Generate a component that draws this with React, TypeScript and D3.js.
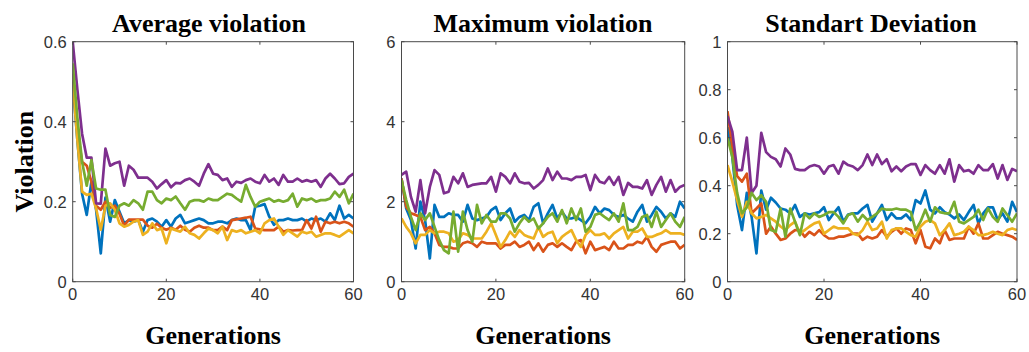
import React from "react";
import * as d3 from "d3";

// ---------- data (generation index 0..60) ----------
const xTicks = [0, 20, 40, 60];

const avgBlue = [0.50,0.354,0.22,0.167,0.25,0.18,0.071,0.21,0.15,0.204,0.175,0.146,0.154,0.15,0.154,0.125,0.154,0.158,0.15,0.1375,0.154,0.1375,0.158,0.167,0.146,0.15,0.154,0.158,0.154,0.146,0.146,0.15,0.15,0.146,0.154,0.158,0.154,0.154,0.129,0.1875,0.19,0.194,0.1625,0.142,0.154,0.154,0.158,0.154,0.154,0.158,0.15,0.158,0.154,0.158,0.15,0.171,0.154,0.19,0.158,0.167,0.158];
const avgRed = [0.52,0.38,0.30,0.29,0.25,0.19,0.18,0.2,0.185,0.19,0.17,0.14,0.155,0.155,0.155,0.155,0.14,0.135,0.145,0.135,0.13,0.135,0.13,0.14,0.13,0.125,0.135,0.14,0.135,0.135,0.129,0.129,0.1375,0.129,0.154,0.156,0.158,0.16,0.1625,0.133,0.131,0.129,0.129,0.129,0.1375,0.125,0.129,0.128,0.129,0.129,0.154,0.133,0.1625,0.125,0.15,0.146,0.15,0.146,0.15,0.146,0.1375];
const avgYellow = [0.504,0.354,0.225,0.217,0.22,0.183,0.13,0.19,0.196,0.18,0.146,0.1375,0.142,0.15,0.154,0.117,0.125,0.146,0.129,0.133,0.096,0.133,0.129,0.125,0.1375,0.121,0.117,0.108,0.121,0.133,0.129,0.121,0.1375,0.104,0.129,0.125,0.129,0.121,0.125,0.129,0.121,0.146,0.154,0.158,0.1375,0.117,0.129,0.121,0.1125,0.125,0.121,0.125,0.1125,0.117,0.121,0.121,0.117,0.1125,0.121,0.129,0.121];
const avgPurple = [0.60,0.48,0.37,0.31,0.31,0.196,0.195,0.333,0.29,0.296,0.30,0.24,0.29,0.28,0.26,0.26,0.26,0.25,0.233,0.244,0.254,0.236,0.247,0.246,0.254,0.258,0.25,0.24,0.27,0.294,0.27,0.267,0.254,0.258,0.237,0.25,0.247,0.254,0.258,0.25,0.246,0.267,0.25,0.258,0.242,0.267,0.25,0.25,0.258,0.25,0.254,0.25,0.254,0.237,0.258,0.27,0.258,0.244,0.246,0.262,0.27];
const avgGreen = [0.546,0.41,0.30,0.24,0.304,0.233,0.23,0.23,0.167,0.162,0.19,0.196,0.19,0.204,0.196,0.18,0.225,0.225,0.204,0.196,0.208,0.204,0.213,0.196,0.18,0.2,0.204,0.204,0.2,0.208,0.204,0.204,0.212,0.22,0.217,0.208,0.2,0.242,0.212,0.1875,0.2,0.204,0.208,0.2,0.204,0.2,0.204,0.22,0.1875,0.208,0.204,0.208,0.2,0.204,0.204,0.208,0.225,0.212,0.23,0.196,0.22];

const maxBlue = [2.58,1.83,1.54,0.83,2.0,1.54,0.58,1.92,1.62,1.62,1.71,1.67,1.67,1.5,1.92,1.58,1.54,1.58,1.62,1.79,1.87,1.54,1.71,1.83,1.5,1.62,1.67,1.54,1.87,1.96,1.46,1.71,1.92,1.58,1.75,1.58,1.58,1.62,1.54,1.46,1.62,1.87,1.71,1.83,1.79,1.67,1.62,1.67,1.58,1.5,1.75,1.92,1.5,1.67,1.87,1.75,1.58,1.71,1.62,2.0,1.83];
const maxRed = [2.58,1.87,1.71,1.67,1.62,1.29,1.37,1.21,0.92,0.87,0.87,0.83,0.83,0.96,1.0,0.96,0.87,1.0,0.96,0.96,0.96,0.83,0.92,0.92,1.0,0.87,0.92,1.0,0.79,0.96,0.75,0.92,0.96,0.87,0.96,0.87,0.79,1.0,1.04,0.71,1.0,0.79,0.83,0.87,0.79,1.0,0.83,0.83,0.92,0.92,1.0,0.96,1.12,0.87,0.75,0.92,0.96,1.0,1.0,0.83,0.92];
const maxYellow = [1.58,1.37,1.21,0.96,1.17,1.17,1.29,1.21,1.25,1.25,1.21,1.0,1.04,1.21,1.17,1.08,1.08,1.08,1.25,1.46,1.17,0.87,1.04,1.25,1.12,1.29,1.17,1.12,1.08,1.37,1.12,1.21,1.25,0.96,1.12,1.21,1.29,1.04,0.87,1.17,1.29,1.17,1.17,1.21,1.08,1.21,1.29,1.37,1.08,1.25,1.25,1.33,1.12,1.12,1.17,1.21,1.29,1.21,1.21,1.21,1.17];
const maxPurple = [2.67,2.75,2.12,1.75,2.54,1.71,2.37,2.79,2.67,2.21,2.25,2.62,2.46,2.71,2.37,2.42,2.44,2.46,2.46,2.62,2.25,2.71,2.62,2.46,2.71,2.5,2.46,2.47,2.33,2.42,2.54,2.83,2.54,2.75,2.58,2.58,2.54,2.62,2.62,2.67,2.29,2.67,2.5,2.46,2.62,2.42,2.62,2.17,2.47,2.37,2.37,2.33,2.54,2.17,2.42,2.62,2.25,2.54,2.25,2.37,2.42];
const maxGreen = [2.54,2.04,1.62,1.29,1.71,1.54,1.71,1.37,1.04,0.79,0.71,1.75,0.75,1.75,1.29,1.0,1.92,1.46,1.67,1.5,1.5,1.71,1.71,1.58,1.25,1.46,1.62,1.5,1.58,1.33,1.46,1.62,1.71,1.5,1.79,1.46,1.83,1.54,1.83,1.25,1.37,1.67,1.71,1.62,1.54,1.71,1.5,1.96,1.29,1.29,1.37,1.62,1.67,1.37,1.75,1.37,1.54,1.71,1.5,1.37,1.62];

const stdBlue = [0.645,0.52,0.32,0.215,0.37,0.27,0.118,0.38,0.30,0.35,0.33,0.305,0.30,0.285,0.32,0.27,0.285,0.28,0.285,0.29,0.31,0.257,0.285,0.31,0.25,0.28,0.285,0.285,0.305,0.32,0.25,0.285,0.32,0.257,0.285,0.264,0.264,0.28,0.257,0.34,0.326,0.38,0.30,0.285,0.31,0.29,0.28,0.264,0.28,0.257,0.29,0.32,0.243,0.285,0.31,0.31,0.257,0.285,0.25,0.333,0.29];
const stdRed = [0.71,0.56,0.44,0.417,0.45,0.285,0.305,0.326,0.20,0.23,0.20,0.174,0.18,0.20,0.215,0.215,0.1875,0.208,0.194,0.215,0.194,0.18,0.18,0.1875,0.1875,0.194,0.20,0.20,0.174,0.1875,0.18,0.1875,0.215,0.1875,0.208,0.222,0.2,0.222,0.215,0.16,0.215,0.146,0.139,0.18,0.16,0.215,0.174,0.18,0.18,0.18,0.229,0.2,0.243,0.18,0.18,0.194,0.208,0.2,0.194,0.1875,0.174];
const stdYellow = [0.486,0.417,0.34,0.27,0.333,0.285,0.264,0.27,0.278,0.264,0.25,0.23,0.215,0.236,0.25,0.2,0.215,0.23,0.243,0.25,0.2,0.215,0.23,0.222,0.222,0.222,0.2,0.194,0.215,0.25,0.215,0.222,0.25,0.18,0.215,0.222,0.222,0.208,0.194,0.1875,0.23,0.25,0.257,0.243,0.194,0.215,0.243,0.194,0.2,0.208,0.229,0.215,0.194,0.194,0.2,0.208,0.2,0.194,0.215,0.222,0.215];
const stdPurple = [0.69,0.625,0.465,0.465,0.60,0.37,0.40,0.62,0.54,0.52,0.51,0.48,0.555,0.53,0.47,0.465,0.465,0.48,0.486,0.48,0.45,0.48,0.486,0.45,0.5,0.486,0.48,0.465,0.486,0.53,0.486,0.53,0.49,0.51,0.46,0.48,0.46,0.48,0.49,0.49,0.445,0.486,0.465,0.45,0.486,0.45,0.51,0.417,0.486,0.46,0.465,0.45,0.486,0.465,0.465,0.49,0.43,0.486,0.424,0.47,0.46];
const stdGreen = [0.60,0.52,0.37,0.285,0.31,0.37,0.34,0.36,0.333,0.215,0.208,0.305,0.1875,0.305,0.25,0.194,0.285,0.264,0.285,0.27,0.278,0.29,0.29,0.27,0.243,0.278,0.285,0.25,0.278,0.257,0.27,0.285,0.305,0.30,0.30,0.305,0.30,0.30,0.29,0.215,0.25,0.30,0.25,0.31,0.29,0.285,0.285,0.333,0.25,0.243,0.257,0.27,0.30,0.257,0.305,0.27,0.25,0.305,0.278,0.25,0.285];

const titles = ["Average violation", "Maximum violation", "Standart Deviation"];
const yTicksAvg = [0, 0.2, 0.4, 0.6];
const yTicksMax = [0, 2, 4, 6];
const yTicksStd = [0, 0.2, 0.4, 0.6, 0.8, 1];
const colors = ["#0072BD", "#D95319", "#EDB120", "#7E2F8E", "#77AC30"];

const panels = [
  { title: titles[0], yMax: 0.6, yTicks: yTicksAvg, series: [avgBlue, avgRed, avgYellow, avgPurple, avgGreen], x0: 72.7, x1: 353.5, tx: 209 },
  { title: titles[1], yMax: 6, yTicks: yTicksMax, series: [maxBlue, maxRed, maxYellow, maxPurple, maxGreen], x0: 401.5, x1: 684.7, tx: 543 },
  { title: titles[2], yMax: 1, yTicks: yTicksStd, series: [stdBlue, stdRed, stdYellow, stdPurple, stdGreen], x0: 727.5, x1: 1017, tx: 871 },
];

const TOP = 41.7;
const BOTTOM = 281.7;
const TICK = 3;
const AXIS = "#4a4a4a";
const LABEL = "#333333";
const SERIF = "'Liberation Serif', 'Times New Roman', serif";
const SANS = "'Liberation Sans', Arial, Helvetica, sans-serif";

function Panel({ p }: { p: any }) {
  const x = d3.scaleLinear().domain([0, 60]).range([p.x0, p.x1]);
  const y = d3.scaleLinear().domain([0, p.yMax]).range([BOTTOM, TOP]);
  const line = d3.line<number>().x((_, i) => x(i)).y((d) => y(d));
  const cx = (p.x0 + p.x1) / 2;
  return (
    <g>
      <defs>
        <clipPath id={"clip-" + p.tx}>
          <rect x={p.x0} y={TOP} width={p.x1 - p.x0} height={BOTTOM - TOP} />
        </clipPath>
      </defs>
      <g clipPath={`url(#clip-${p.tx})`}>
        {p.series.map((s: number[], k: number) => (
          <path key={k} d={line(s) || ""} fill="none" stroke={colors[k]} strokeWidth={2.7} strokeLinejoin="round" />
        ))}
      </g>
      <rect x={p.x0} y={TOP} width={p.x1 - p.x0} height={BOTTOM - TOP} fill="none" stroke={AXIS} strokeWidth={1} />
      {xTicks.map((t) => (
        <g key={"x" + t}>
          <line x1={x(t)} x2={x(t)} y1={BOTTOM} y2={BOTTOM - TICK} stroke={AXIS} />
          <line x1={x(t)} x2={x(t)} y1={TOP} y2={TOP + TICK} stroke={AXIS} />
          <text x={x(t)} y={BOTTOM + 18.5} textAnchor="middle" fontFamily={SANS} fontSize={16.5} fill={LABEL}>{t}</text>
        </g>
      ))}
      {p.yTicks.map((t: number) => (
        <g key={"y" + t}>
          <line x1={p.x0} x2={p.x0 + TICK} y1={y(t)} y2={y(t)} stroke={AXIS} />
          <line x1={p.x1} x2={p.x1 - TICK} y1={y(t)} y2={y(t)} stroke={AXIS} />
          <text x={p.x0 - 6} y={y(t) + 6} textAnchor="end" fontFamily={SANS} fontSize={16.5} fill={LABEL}>{String(t)}</text>
        </g>
      ))}
      <text x={p.tx} y={32} textAnchor="middle" fontFamily={SERIF} fontWeight="bold" fontSize={26} fill="#000">{p.title}</text>
      <text x={cx} y={344} textAnchor="middle" fontFamily={SERIF} fontWeight="bold" fontSize={26} fill="#000">Generations</text>
    </g>
  );
}

export default function App() {
  return (
    <svg width={1029} height={352} style={{ position: "absolute", left: 0, top: 0, background: "#fff" }}>
      <rect x={0} y={0} width={1029} height={352} fill="#fff" />
      {panels.map((p, i) => (
        <Panel key={i} p={p} />
      ))}
      <text transform={`translate(33, ${(TOP + BOTTOM) / 2}) rotate(-90)`} textAnchor="middle" fontFamily={SERIF} fontWeight="bold" fontSize={26} fill="#000">Violation</text>
    </svg>
  );
}
